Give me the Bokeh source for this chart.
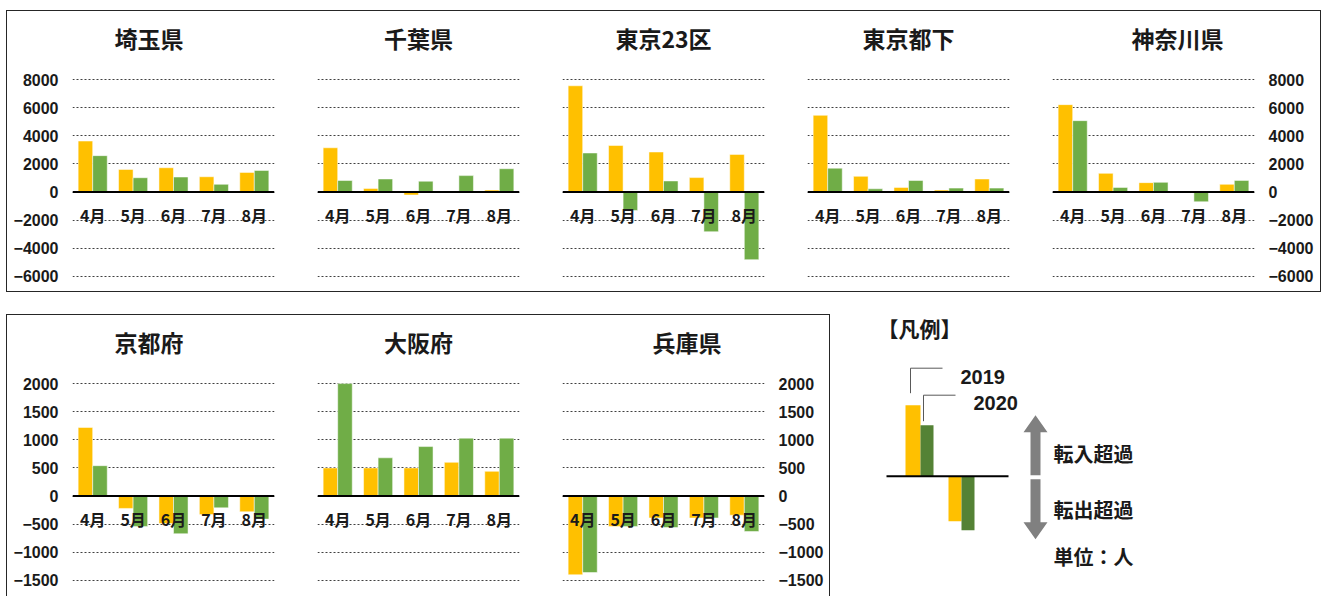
from bokeh.plotting import figure
from bokeh.layouts import row, column
from bokeh.models import FactorRange, Range1d, FixedTicker, Span, ColumnDataSource, Spacer, Title
from bokeh.transform import dodge
from bokeh.core.properties import value
from bokeh.embed import file_html
from bokeh.resources import INLINE

# ---------------- data ----------------
months = ["4月", "5月", "6月", "7月", "8月"]

saitama_2019 = [3630, 1610, 1730, 1090, 1400]
saitama_2020 = [2590, 1020, 1070, 550, 1540]
chiba_2019 = [3150, 260, -210, -30, 140]
chiba_2020 = [820, 930, 770, 1170, 1660]
tokyo23_2019 = [7560, 3310, 2850, 1030, 2680]
tokyo23_2020 = [2780, -1310, 790, -2820, -4810]
tokyo_tama_2019 = [5460, 1120, 330, 140, 930]
tokyo_tama_2020 = [1700, 230, 820, 280, 280]
kanagawa_2019 = [6220, 1330, 670, 0, 550]
kanagawa_2020 = [5080, 330, 690, -690, 830]

kyoto_2019 = [1220, -220, -490, -330, -280]
kyoto_2020 = [540, -540, -670, -210, -410]
osaka_2019 = [500, 500, 500, 600, 440]
osaka_2020 = [2000, 680, 880, 1030, 1030]
hyogo_2019 = [-1400, -540, -390, -390, -340]
hyogo_2020 = [-1360, -540, -560, -390, -630]

top_ticks = [-6000, -4000, -2000, 0, 2000, 4000, 6000, 8000]
bottom_ticks = [-1500, -1000, -500, 0, 500, 1000, 1500, 2000]

legend_years = ["2019", "2020"]
legend_in_text = "転入超過"
legend_out_text = "転出超過"
legend_unit_text = "単位：人"
legend_title_text = "【凡例】"

# ---------------- styles ----------------
C2019 = "#FFC000"
C2020 = "#70AD47"
C2020_LEG = "#548235"
TXT = "#1a1a1a"
JP = "Noto Sans CJK JP"
LAT = "Liberation Sans"


def panel(title, v19, v20, ticks, yr, axis_side, width, left, right, height, top, bottom,
          title_align="center", title_offset=0):
    src = ColumnDataSource(dict(month=months, y2019=v19, y2020=v20, zero=[0] * len(months)))
    p = figure(x_range=FactorRange(factors=months, range_padding=0), y_range=Range1d(*yr),
               width=width, height=height, min_border_left=left, min_border_right=right,
               min_border_top=top, min_border_bottom=bottom, output_backend="svg",
               toolbar_location=None, x_axis_location=None, y_axis_location=axis_side,
               outline_line_color=None, background_fill_color=None, border_fill_color=None)
    p.xgrid.visible = False
    p.ygrid.ticker = FixedTicker(ticks=ticks)
    p.ygrid.grid_line_color = "#404040"
    p.ygrid.grid_line_dash = "2 2"
    p.ygrid.grid_line_width = 1
    if axis_side is not None:
        ax = p.yaxis[0]
        ax.ticker = FixedTicker(ticks=ticks)
        ax.axis_line_color = None
        ax.major_tick_line_color = None
        ax.minor_tick_line_color = None
        ax.major_tick_in = 0
        ax.major_tick_out = 0
        ax.minor_tick_in = 0
        ax.minor_tick_out = 0
        ax.major_label_standoff = 14
        ax.major_label_text_font = LAT
        ax.major_label_text_font_style = "bold"
        ax.major_label_text_font_size = "16px"
        ax.major_label_text_color = TXT
    p.vbar(x=dodge("month", -0.18, range=p.x_range), top="y2019", width=0.36, source=src,
           fill_color=C2019, line_color="white", line_alpha=0.5, line_width=1)
    p.vbar(x=dodge("month", 0.18, range=p.x_range), top="y2020", width=0.36, source=src,
           fill_color=C2020, line_color="white", line_alpha=0.5, line_width=1)
    p.add_layout(Span(location=0, dimension="width", line_color="black", line_width=2))
    p.text(x="month", y="zero", text="month", source=src, text_align="center",
           text_baseline="middle", y_offset=23, text_font=value(JP), text_font_style="bold",
           text_font_size="16px", text_color=TXT)
    # spacer between frame and title, then the title itself
    p.add_layout(Title(text=" ", text_font_size="2px", standoff=19), "above")
    p.add_layout(Title(text=title, align=title_align, offset=title_offset, standoff=0,
                       text_font=JP, text_font_style="bold", text_font_size="23px",
                       text_color=TXT), "above")
    return p


TOP_YR = (-6150, 8150)
BOT_YR = (-1537, 2037)
TH, BH = 280, 281

top_figs = [
    panel("埼玉県", saitama_2019, saitama_2020, top_ticks, TOP_YR, "left", 288, 65, 21, TH, 66, 13,
          "left", 42),
    panel("千葉県", chiba_2019, chiba_2020, top_ticks, TOP_YR, None, 245, 22, 21, TH, 66, 13),
    panel("東京23区", tokyo23_2019, tokyo23_2020, top_ticks, TOP_YR, None, 245, 22, 21, TH, 66, 13),
    panel("東京都下", tokyo_tama_2019, tokyo_tama_2020, top_ticks, TOP_YR, None, 245, 22, 21, TH, 66, 13),
    panel("神奈川県", kanagawa_2019, kanagawa_2020, top_ticks, TOP_YR, "right", 290, 22, 66, TH, 66, 13,
          "left", 79),
]

bot_figs = [
    panel("京都府", kyoto_2019, kyoto_2020, bottom_ticks, BOT_YR, "left", 288, 65, 21, BH, 66, 14,
          "left", 42),
    panel("大阪府", osaka_2019, osaka_2020, bottom_ticks, BOT_YR, None, 245, 22, 21, BH, 66, 14),
    panel("兵庫県", hyogo_2019, hyogo_2020, bottom_ticks, BOT_YR, "right", 289, 22, 65, BH, 66, 14,
          "left", 90),
]

# ---------------- legend figure ----------------
LW, LH = 493, 282
lg = figure(width=LW, height=LH, x_range=Range1d(0, LW), y_range=Range1d(-120.3, 161.7),
            min_border=0, output_backend="svg", toolbar_location=None,
            x_axis_location=None, y_axis_location=None, outline_line_color=None,
            background_fill_color=None, border_fill_color=None)
lg.xgrid.visible = False
lg.ygrid.visible = False

# schematic bars (positive / negative example)
lg.quad(left=[75, 118], right=[90, 131], bottom=[0, -45], top=[71, 0], fill_color=C2019, line_color=None)
lg.quad(left=[90, 131], right=[103, 144], bottom=[0, -54], top=[51, 0], fill_color=C2020_LEG, line_color=None)
lg.line(x=[56, 178], y=[0, 0], line_color="black", line_width=2)
# leader lines
lg.line(x=[80, 80, 112], y=[83, 108, 108], line_color="#595959", line_width=1)
lg.line(x=[93, 93, 125], y=[55, 81, 81], line_color="#595959", line_width=1)
lg.text(x=[130, 143], y=[99, 73], text=legend_years, text_baseline="middle", text_align="left",
        text_font=value(LAT), text_font_style="bold", text_font_size="20px", text_color=TXT)
# arrows
lg.patches(xs=[[200, 210, 210, 217, 205, 193, 200], [200, 210, 210, 217, 205, 193, 200]],
           ys=[[1, 1, 44, 44, 61, 44, 44], [-3, -3, -46, -46, -63, -46, -46]],
           fill_color="#808080", line_color=None)
lg.text(x=[223, 223, 223], y=[23, -33, -80], text=[legend_in_text, legend_out_text, legend_unit_text],
        text_baseline="middle", text_align="left", text_font=value(JP), text_font_style="bold",
        text_font_size="20px", text_color=TXT)
lg.text(x=[47], y=[148], text=[legend_title_text], text_baseline="middle", text_align="left",
        text_font=value(JP), text_font_style="bold", text_font_size="21px", text_color=TXT)

# ---------------- layout ----------------
top_box = row(*top_figs, styles={"border": "1px solid #262626"})
bot_box = row(*bot_figs, styles={"border": "1px solid #262626", "border-bottom": "none"})

root = column(
    Spacer(height=10),
    row(Spacer(width=6), top_box),
    Spacer(height=22),
    row(Spacer(width=6), bot_box, lg),
)

open("out.html", "w").write(file_html(root, INLINE))
